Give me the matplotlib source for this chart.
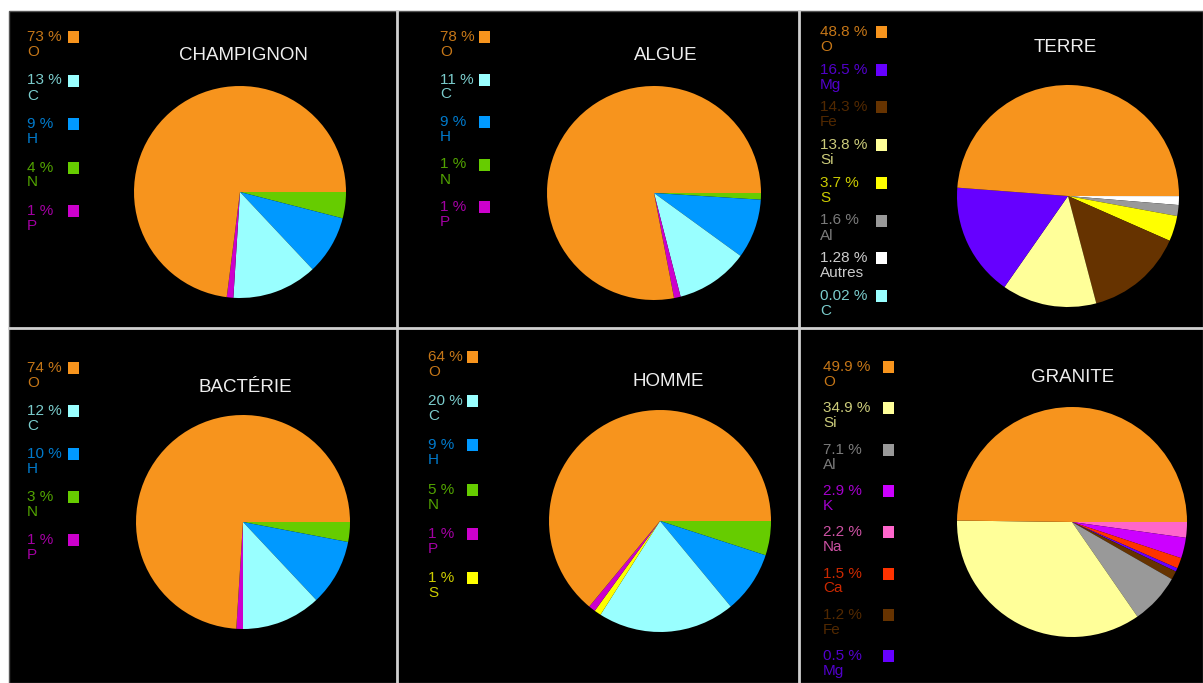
import matplotlib.pyplot as plt
from matplotlib.patches import Rectangle

# colours of the elements
col = {
    "O": "#f7941d", "C": "#99ffff", "H": "#0099ff", "N": "#66cc00",
    "P": "#cc00cc", "S": "#ffff00", "Mg": "#6600ff", "Fe": "#663300",
    "Si": "#ffff99", "Al": "#999999", "Autres": "#ffffff", "K": "#cc00ff",
    "Na": "#ff66cc", "Ca": "#ff3300",
}

# slices, clockwise from the east
champ_el = ["N", "H", "C", "P", "O"]
champ_val = [4, 9, 13, 1, 73]
algue_el = ["N", "H", "C", "P", "O"]
algue_val = [1, 9, 11, 1, 78]
terre_el = ["C", "Autres", "Al", "S", "Fe", "Si", "Mg", "O"]
terre_val = [0.02, 1.28, 1.6, 3.7, 14.3, 13.8, 16.5, 48.8]
bact_el = ["N", "H", "C", "P", "O"]
bact_val = [3, 10, 12, 1, 74]
homme_el = ["N", "H", "C", "S", "P", "O"]
homme_val = [5, 9, 20, 1, 1, 64]
granite_el = ["Na", "K", "Ca", "Mg", "Fe", "Al", "Si", "O"]
granite_val = [2.2, 2.9, 1.5, 0.5, 1.2, 7.1, 34.9, 49.9]

# legend texts, in the order they are listed
champ_leg = [("73 %", "O"), ("13 %", "C"), ("9 %", "H"), ("4 %", "N"), ("1 %", "P")]
algue_leg = [("78 %", "O"), ("11 %", "C"), ("9 %", "H"), ("1 %", "N"), ("1 %", "P")]
terre_leg = [("48.8 %", "O"), ("16.5 %", "Mg"), ("14.3 %", "Fe"), ("13.8 %", "Si"),
             ("3.7 %", "S"), ("1.6 %", "Al"), ("1.28 %", "Autres"), ("0.02 %", "C")]
bact_leg = [("74 %", "O"), ("12 %", "C"), ("10 %", "H"), ("3 %", "N"), ("1 %", "P")]
homme_leg = [("64 %", "O"), ("20 %", "C"), ("9 %", "H"), ("5 %", "N"), ("1 %", "P"), ("1 %", "S")]
granite_leg = [("49.9 %", "O"), ("34.9 %", "Si"), ("7.1 %", "Al"), ("2.9 %", "K"),
               ("2.2 %", "Na"), ("1.5 %", "Ca"), ("1.2 %", "Fe"), ("0.5 %", "Mg")]

W, H = 1203, 683
plt.rcParams["font.family"] = ["Liberation Sans", "DejaVu Sans"]
fig = plt.figure(figsize=(W / 100, H / 100), dpi=100, facecolor="white")

# background panels
bg = fig.add_axes([0, 0, 1, 1])
bg.set_xlim(0, W)
bg.set_ylim(H, 0)
bg.axis("off")
bg.add_patch(Rectangle((9, 11), W - 9, H - 11, facecolor="black", edgecolor="#555555", lw=1))
for x in (397, 799):
    bg.plot([x, x], [11, H], color="#d0d0d0", lw=2)
bg.plot([9, W], [328, 328], color="#d0d0d0", lw=2)

panels = [
    # title, elements, values, legend, pie centre/radius, title pos, legend x, square x, legend y0, step
    ("CHAMPIGNON", champ_el, champ_val, champ_leg, (240, 192, 106), (243, 55), 27, 73, 37, 43.5),
    ("ALGUE", algue_el, algue_val, algue_leg, (654, 193, 107), (666, 55), 440, 484, 37, 42.5),
    ("TERRE", terre_el, terre_val, terre_leg, (1068, 196, 111), (1065, 48), 820, 881, 32, 37.7),
    ("BACTÉRIE", bact_el, bact_val, bact_leg, (243, 522, 107), (245, 387), 27, 73, 368, 43),
    ("HOMME", homme_el, homme_val, homme_leg, (660, 521, 111), (668, 381), 428, 472, 357, 44.2),
    ("GRANITE", granite_el, granite_val, granite_leg, (1072, 522, 115), (1073, 378), 823, 888, 367, 41.3),
]

for title, els, vals, leg, (cx, cy, r), (tx, ty), lx, sx, ly0, step in panels:
    ax = fig.add_axes([(cx - r) / W, 1 - (cy + r) / H, 2 * r / W, 2 * r / H])
    ax.pie(vals, colors=[col[e] for e in els], startangle=0, counterclock=False,
           wedgeprops=dict(linewidth=0))
    ax.set_xlim(-1, 1)
    ax.set_ylim(-1, 1)
    ax.axis("off")
    bg.text(tx, ty, title, color="#eeeeee", fontsize=13.5, ha="center", va="center")
    for i, (pct, el) in enumerate(leg):
        y = ly0 + i * step
        c = col[el]
        bg.text(lx, y, pct, color=c, fontsize=11, ha="left", va="center", alpha=0.8)
        bg.text(lx, y + 15, el, color=c, fontsize=11, ha="left", va="center", alpha=0.8)
        bg.add_patch(Rectangle((sx - 5.5, y - 6), 11, 12, facecolor=c, edgecolor="none"))

fig.savefig("out.png", dpi=100, facecolor="white")
